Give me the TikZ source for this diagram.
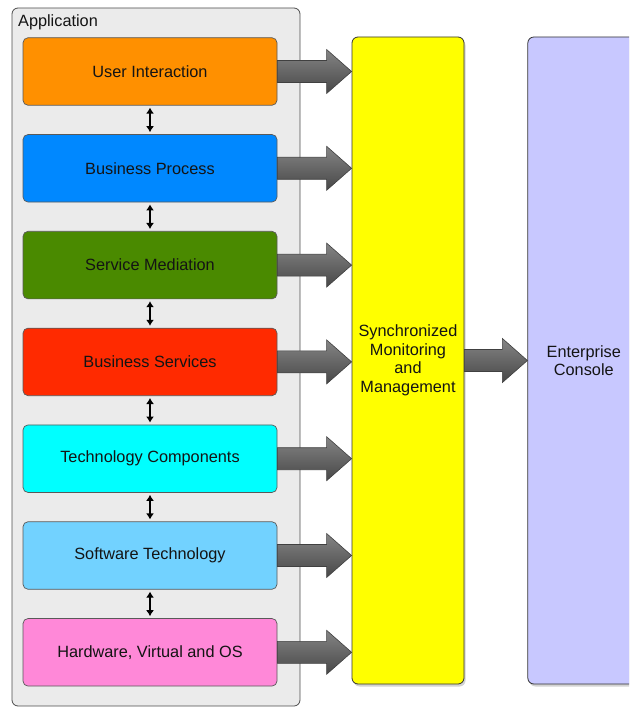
\documentclass[tikz,border=0pt]{standalone}
\usepackage{fontspec}
\setmainfont{Liberation Sans}
\usepackage{tikz}
\usetikzlibrary{arrows.meta, positioning, shadows, calc}
\definecolor{uiorange}{HTML}{FF9000}
\definecolor{bpblue}{HTML}{0088FF}
\definecolor{smgreen}{HTML}{4A8A00}
\definecolor{bsred}{HTML}{FF2A00}
\definecolor{tccyan}{HTML}{00FFFF}
\definecolor{stblue}{HTML}{72D2FF}
\definecolor{hwpink}{HTML}{FF88D8}
\definecolor{syncyellow}{HTML}{FFFF00}
\definecolor{conlilac}{HTML}{C8C8FF}
\definecolor{appgray}{HTML}{EBEBEB}

% dicker grauer Pfeil zwischen zwei Knoten
\newcommand{\fatarrow}[2]{%
  \path let \p1=(#1.east), \p2=(#2.west |- #1.east) in
    [draw=black!75, line width=0.6pt, top color=black!48, middle color=black!36, bottom color=black!72]
    (\x1,\y1+11pt) -- (\x2-25pt,\y1+11pt) -- (\x2-25pt,\y1+22pt) -- (\x2,\y1)
    -- (\x2-25pt,\y1-22pt) -- (\x2-25pt,\y1-11pt) -- (\x1,\y1-11pt) -- cycle;}

\begin{document}
\begin{tikzpicture}[
    x=1pt, y=-1pt,
    node distance=28.6pt,
    txt/.style={font=\fontsize{16.3}{18.5}\selectfont, text=black!92},
    layer/.style={txt, draw=black!65, line width=0.7pt, rounded corners=5pt, minimum width=254pt, minimum height=67.5pt, align=center},
    tall/.style={txt, draw=black!80, line width=0.8pt, rounded corners=6pt, minimum width=112pt, minimum height=647pt, align=center,
        drop shadow={opacity=0.35, shadow xshift=1.5pt, shadow yshift=-2.5pt}},
    appbox/.style={draw=black!70, line width=0.8pt, fill=appgray, rounded corners=6pt, minimum width=288pt, minimum height=698pt},
    dbl/.style={{Latex[length=6pt,width=8pt]}-{Latex[length=6pt,width=8pt]}, line width=1.3pt, shorten >=2pt, shorten <=2pt}
]
    \clip (0,0) rectangle (629,708);

    % Container Application
    \node[appbox] (app) at (156,357) {};
    \node[txt, anchor=north west] (applbl) at ([xshift=3pt,yshift=-4pt]app.north west) {Application};

    % Schichten
    \node[layer, fill=uiorange] (ui) at (150,71.5) {User Interaction};
    \node[layer, fill=bpblue, below=of ui] (bp) {Business Process};
    \node[layer, fill=smgreen, below=of bp] (sm) {Service Mediation};
    \node[layer, fill=bsred, below=of sm] (bs) {Business Services};
    \node[layer, fill=tccyan, below=of bs] (tc) {Technology Components};
    \node[layer, fill=stblue, below=of tc] (st) {Software Technology};
    \node[layer, fill=hwpink, below=of st] (hw) {Hardware, Virtual and OS};

    % Monitoring und Konsole
    \node[tall, fill=syncyellow] (sync) at (408,360.5) {Synchronized\\Monitoring\\and\\Management};
    \node[tall, fill=conlilac, right=63pt of sync] (console) {Enterprise\\Console};

    % Doppelpfeile zwischen den Schichten
    \draw[dbl] (ui) -- (bp);
    \draw[dbl] (bp) -- (sm);
    \draw[dbl] (sm) -- (bs);
    \draw[dbl] (bs) -- (tc);
    \draw[dbl] (tc) -- (st);
    \draw[dbl] (st) -- (hw);

    % dicke Pfeile
    \foreach \src in {ui,bp,sm,bs,tc,st,hw}
        \fatarrow{\src}{sync};
    \fatarrow{sync}{console};
\end{tikzpicture}
\end{document}
